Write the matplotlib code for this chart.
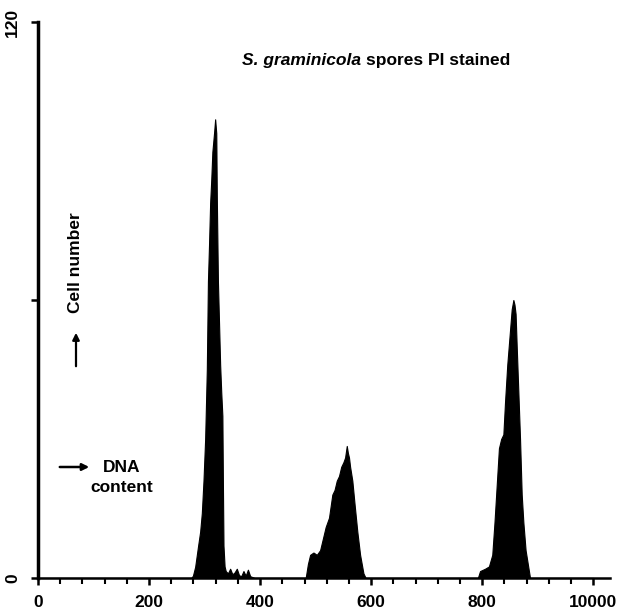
import matplotlib.pyplot as plt
from matplotlib.ticker import MultipleLocator

plt.rcParams['font.family'] = 'Liberation Sans'

# DNA content channel vs cell number
channel = [0, 276, 279, 283, 288, 292, 295, 298, 301, 304, 306, 308, 310, 312, 314, 317, 319,
           321, 322, 324, 326, 328, 330, 332, 333, 334, 336, 338, 342, 346, 350, 354, 358, 362,
           366, 370, 374, 378, 382, 390,
           482, 486, 490, 496, 502, 508, 514, 518, 524, 530, 534, 538, 542, 546, 550, 553, 556,
           558, 560, 562, 566, 570, 575, 580, 586, 590,
           792, 796, 805, 812, 818, 822, 826, 830, 834, 838, 841, 845, 849, 853, 856, 858, 860,
           862, 865, 868, 871, 874, 878, 882, 886, 1000]
cells = [0, 0, 0.5, 2.4, 6.7, 10, 14, 21, 30, 45, 64, 72, 81, 86, 92, 96, 99,
         96, 82, 64, 55, 46, 40, 35, 20, 7, 2.5, 1.5, 1, 2, 0.8, 1.2, 2, 0.6,
         0.4, 1.5, 0.5, 1.8, 0.4, 0,
         0, 3, 5, 5.5, 5, 6, 9, 11, 13, 18, 19, 21, 22, 24, 25, 26, 28.5,
         27, 26, 24, 21, 16, 10, 5, 1, 0,
         0, 1.5, 2, 2.5, 5, 12, 20, 28, 30, 31, 38, 46, 52, 58, 60, 59, 57,
         50, 40, 30, 18, 12, 6, 3, 0, 0]

x_ticks = [0, 200, 400, 600, 800, 1000]
x_labels = ['0', '200', '400', '600', '800', '10000']
y_ticks = [0, 60, 120]
y_labels = ['0', '', '120']

fig = plt.figure(figsize=(6.23, 6.14), dpi=100)
ax = fig.add_axes([38 / 623, 36 / 614, 572 / 623, 556 / 614])

ax.fill_between(channel, cells, 0, color='black', linewidth=0.8, edgecolor='black')

ax.set_xlim(0, 1030)
ax.set_ylim(0, 120)

for side in ['top', 'right']:
    ax.spines[side].set_visible(False)
ax.spines['left'].set_linewidth(2.5)
ax.spines['bottom'].set_linewidth(1.8)

ax.set_xticks(x_ticks)
ax.set_xticklabels(x_labels, fontsize=12.5, fontweight='bold')
ax.xaxis.set_minor_locator(MultipleLocator(40))
ax.tick_params(axis='x', which='major', direction='out', length=5, width=1.8, pad=7)
ax.tick_params(axis='x', which='minor', direction='out', length=4, width=1.5)

ax.set_yticks(y_ticks)
ax.set_yticklabels(y_labels, fontsize=12.5, fontweight='bold', rotation=90, va='center')
ax.tick_params(axis='y', direction='out', length=5, width=1.8, pad=8)

# title, species name in italics
t1 = fig.text(242 / 623, 1 - 60 / 614, 'S. graminicola', fontsize=12.5, fontweight='bold',
              fontstyle='italic', va='center', ha='left')
fig.canvas.draw()
bb = t1.get_window_extent()
fig.text((bb.x1 + 5) / 623, 1 - 60 / 614, 'spores PI stained', fontsize=12.5,
         fontweight='bold', va='center', ha='left')

# axis hints
fig.text(75 / 623, 1 - 263 / 614, 'Cell number', fontsize=12.5, fontweight='bold',
         rotation=90, ha='center', va='center')
ax.annotate('', xy=(76 / 623, 1 - 330 / 614), xytext=(76 / 623, 1 - 369 / 614),
            xycoords='figure fraction', textcoords='figure fraction',
            arrowprops=dict(arrowstyle='-|>', color='black', lw=1.6, mutation_scale=10))
ax.annotate('', xy=(92 / 623, 1 - 467 / 614), xytext=(57 / 623, 1 - 467 / 614),
            xycoords='figure fraction', textcoords='figure fraction',
            arrowprops=dict(arrowstyle='-|>', color='black', lw=1.8, mutation_scale=10))
fig.text(122 / 623, 1 - 467 / 614, 'DNA', fontsize=12.5, fontweight='bold',
         ha='center', va='center')
fig.text(122 / 623, 1 - 488 / 614, 'content', fontsize=12.5, fontweight='bold',
         ha='center', va='center')

fig.savefig('out.png', dpi=100)
